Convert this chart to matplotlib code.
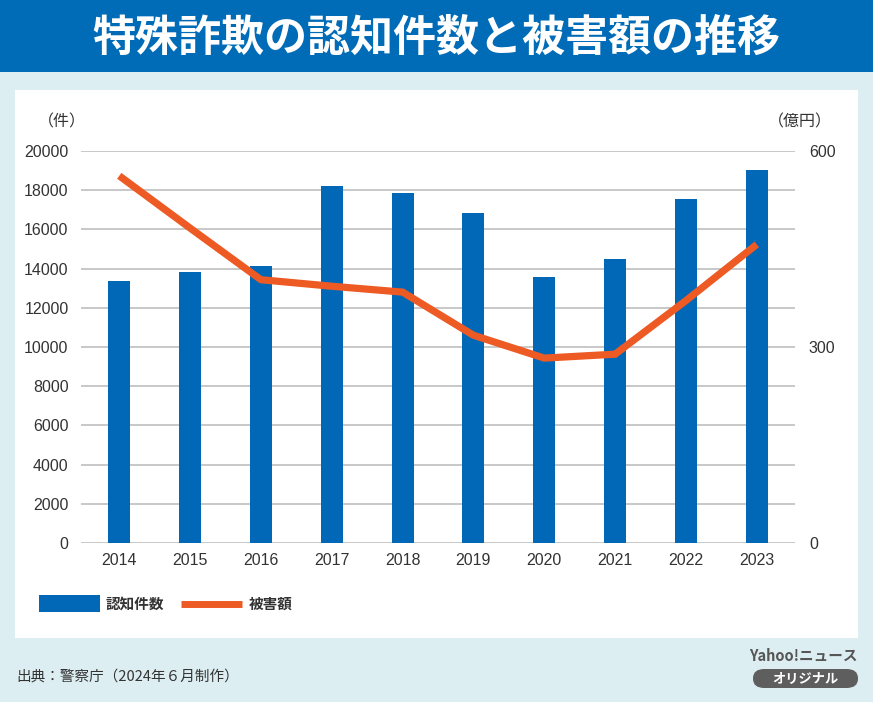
import matplotlib.pyplot as plt
from matplotlib.patches import Rectangle, FancyBboxPatch
from matplotlib.lines import Line2D

plt.rcParams['font.family'] = ['Noto Sans CJK JP', 'DejaVu Sans']

years = ["2014", "2015", "2016", "2017", "2018", "2019", "2020", "2021", "2022", "2023"]
cases = [13392, 13824, 14154, 18212, 17844, 16851, 13550, 14498, 17570, 19038]
damage = [562, 482, 403, 393, 384, 318, 283, 289, 371, 457]
left_ticks = list(range(0, 20001, 2000))
right_ticks = [0, 300, 600]

BLUE = "#0068b7"
ORANGE = "#ee5a24"
BG = "#ddeef3"
TXT = "#333333"
W, H = 873, 702

fig = plt.figure(figsize=(8.73, 7.02), dpi=100)
fig.patch.set_facecolor(BG)


def fx(px):
    return px / W


def fy(py):
    return 1 - py / H


# title bar and white panel (behind the axes)
fig.patches.append(Rectangle((0, fy(72)), 1, 72 / H, transform=fig.transFigure,
                             facecolor="#006bb6", edgecolor="none", zorder=-5))
fig.patches.append(Rectangle((fx(15), fy(638)), (858 - 15) / W, (638 - 90) / H,
                             transform=fig.transFigure, facecolor="white",
                             edgecolor="none", zorder=-5))
fig.text(0.5, fy(38), "特殊詐欺の認知件数と被害額の推移", color="white",
         fontsize=31, fontweight="bold", ha="center", va="center")

ax = fig.add_axes([fx(81), fy(543), (795 - 81) / W, (543 - 151) / H])
ax.set_facecolor("none")
x = list(range(len(years)))
ax.bar(x, cases, width=0.31, color=BLUE, zorder=2)
ax.set_xlim(-0.54, 9.54)
ax.set_ylim(0, 20000)
ax.set_yticks(left_ticks)
ax.set_xticks(x)
ax.set_xticklabels(years)
ax.grid(axis="y", color="#c4c4c4", linewidth=1.3, zorder=0)
ax.set_axisbelow(True)
for s in ax.spines.values():
    s.set_visible(False)
ax.tick_params(length=0, labelsize=11.5, colors=TXT, pad=9)
ax.tick_params(axis="x", pad=7)
for lab in ax.get_xticklabels() + ax.get_yticklabels():
    lab.set_family("Liberation Sans")

ax2 = ax.twinx()
ax2.plot(x, damage, color=ORANGE, linewidth=5.2, solid_capstyle="butt",
         solid_joinstyle="miter", zorder=3)
ax2.set_ylim(0, 600)
ax2.set_yticks(right_ticks)
for s in ax2.spines.values():
    s.set_visible(False)
ax2.tick_params(length=0, labelsize=11.5, colors=TXT, pad=10)
for lab in ax2.get_yticklabels():
    lab.set_family("Liberation Sans")

fig.text(fx(38), fy(122), "（件）", fontsize=11.5, color=TXT, ha="left", va="center")
fig.text(fx(832), fy(122), "（億円）", fontsize=11.5, color=TXT, ha="right", va="center")

# legend
fig.patches.append(Rectangle((fx(39), fy(612)), 61 / W, 17 / H, transform=fig.transFigure,
                             facecolor=BLUE, edgecolor="none"))
fig.text(fx(106), fy(604), "認知件数", fontsize=10.5, fontweight="bold", color=TXT,
         ha="left", va="center")
fig.lines.append(Line2D([fx(181), fx(242)], [fy(604), fy(604)], transform=fig.transFigure,
                        color=ORANGE, linewidth=5, solid_capstyle="butt"))
fig.text(fx(249), fy(604), "被害額", fontsize=10.5, fontweight="bold", color=TXT,
         ha="left", va="center")

# footer
fig.text(fx(16), fy(677), "出典：警察庁（2024年６月制作）", fontsize=10.5, color=TXT,
         ha="left", va="center")
fig.text(fx(858), fy(656), "Yahoo!ニュース", fontsize=10.5, fontweight="bold",
         color="#555555", ha="right", va="center")
fig.patches.append(FancyBboxPatch((fx(753), fy(688)), 105 / W, 19 / H,
                                  boxstyle="round,pad=0,rounding_size=0.013",
                                  transform=fig.transFigure, facecolor="#5e5e5e",
                                  edgecolor="none"))
fig.text(fx(805), fy(678.5), "オリジナル", fontsize=9.5, fontweight="bold",
         color="white", ha="center", va="center")

fig.savefig("out.png", dpi=100, facecolor=BG)
